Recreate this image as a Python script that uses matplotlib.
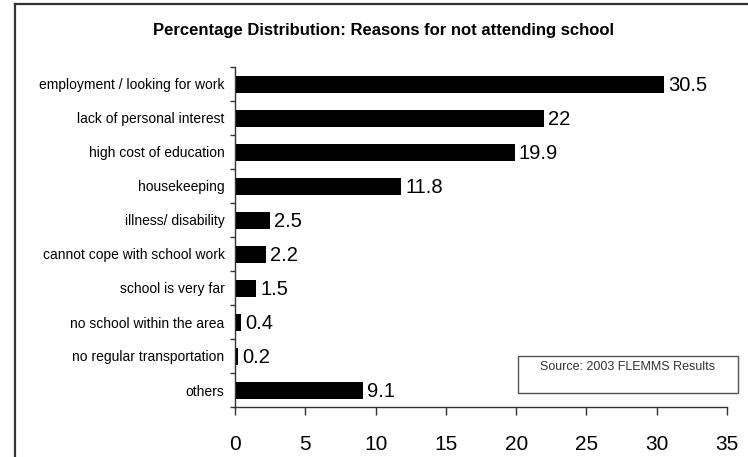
import matplotlib
matplotlib.use("Agg")
import matplotlib.pyplot as plt
from matplotlib.patches import Rectangle
from matplotlib.lines import Line2D
import numpy as np

# ====== Data ======
reasons = [
    "employment / looking for work",
    "lack of personal interest",
    "high cost of education",
    "housekeeping",
    "illness/ disability",
    "cannot cope with school work",
    "school is very far",
    "no school within the area",
    "no regular transportation",
    "others",
]
percent = [30.5, 22, 19.9, 11.8, 2.5, 2.2, 1.5, 0.4, 0.2, 9.1]
x_ticks = [0, 5, 10, 15, 20, 25, 30, 35]

plt.rcParams["font.family"] = ["Liberation Sans", "DejaVu Sans"]

fig = plt.figure(figsize=(7.48, 4.57), dpi=100)
ax = fig.add_axes([235 / 748, 1 - 407 / 457, 492 / 748, 340 / 457])

pos = np.arange(len(reasons))
ax.barh(pos, percent, height=0.5, color="black")

for p, v in zip(pos, percent):
    ax.text(v + 0.3, p + 0.05, f"{v:g}", va="center", ha="left",
            fontsize=14.5, color="black")

ax.set_ylim(len(reasons) - 0.5, -0.5)
ax.set_xlim(0, 35)

ax.set_yticks(pos)
ax.set_yticklabels(reasons, fontsize=10)
ax.set_yticks(np.arange(-0.5, len(reasons)), minor=True)
ax.tick_params(axis="y", which="major", length=0, pad=7.5)
ax.tick_params(axis="y", which="minor", length=3.5, width=1, color="#333333")

ax.set_xticks(x_ticks)
ax.set_xticklabels([str(t) for t in x_ticks], fontsize=15)
ax.tick_params(axis="x", length=6, width=1, pad=14, color="#333333")

for side in ["top", "right"]:
    ax.spines[side].set_visible(False)
for side in ["left", "bottom"]:
    ax.spines[side].set_color("#333333")
    ax.spines[side].set_linewidth(1)

fig.text(383 / 748, 1 - 30 / 457,
         "Percentage Distribution: Reasons for not attending school",
         ha="center", va="center", fontsize=12, fontweight="bold")

# source box
fig.patches.append(Rectangle((518 / 748, 1 - 393 / 457), 220 / 748, 37 / 457,
                             transform=fig.transFigure, fill=False,
                             edgecolor="#555555", linewidth=1))
fig.text(628 / 748, 1 - 367 / 457, "Source: 2003 FLEMMS Results",
         ha="center", va="center", fontsize=9, color="#333333")

# outer frame (left and top edges)
fig.lines.append(Line2D([15 / 748, 15 / 748], [0, 1 - 4 / 457],
                        transform=fig.transFigure, color="#333333", linewidth=1.6))
fig.lines.append(Line2D([15 / 748, 1], [1 - 4 / 457, 1 - 4 / 457],
                        transform=fig.transFigure, color="#333333", linewidth=1.6))

fig.savefig("out.png", dpi=100)
